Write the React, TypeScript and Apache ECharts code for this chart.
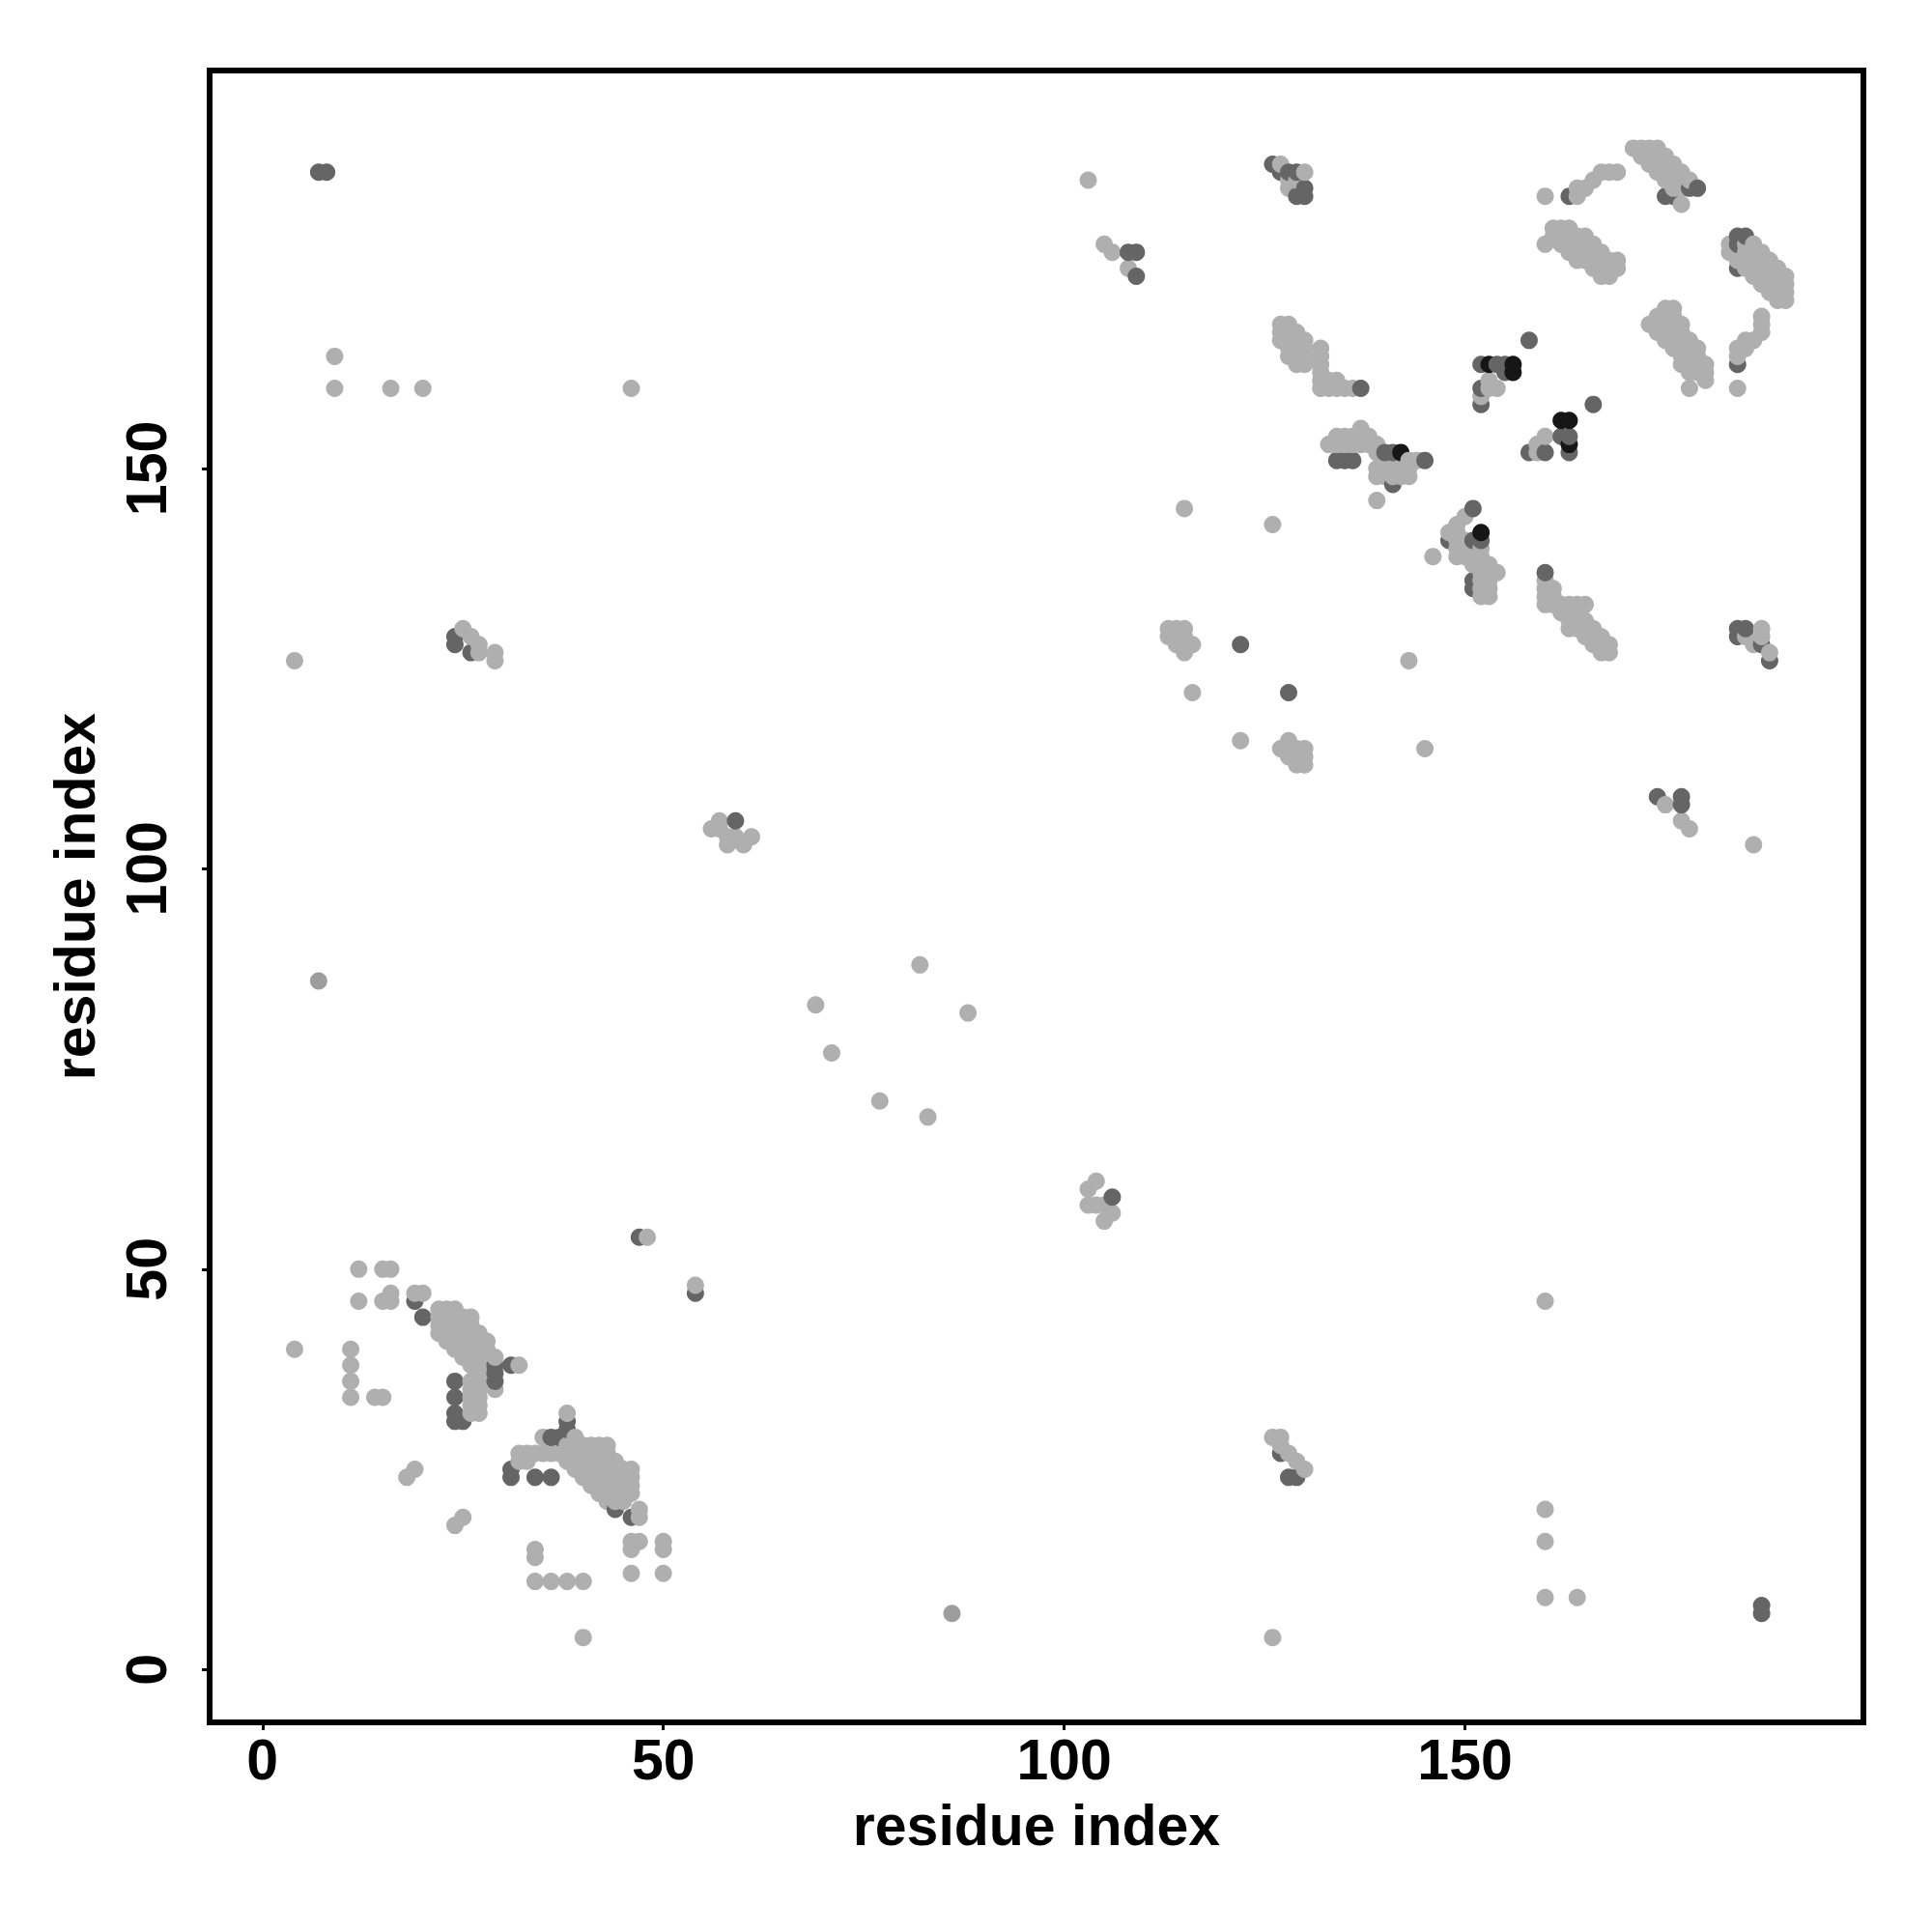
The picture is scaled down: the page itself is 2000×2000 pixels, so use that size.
import React, { useEffect, useRef } from "react";
import * as echarts from "echarts";

// axis range and tick labels
const axisRange = [-6.6, 199.7];
const tickValues = [0, 50, 100, 150];
const axisTitle = "residue index";

// contacts [i, j] grouped by shade
const lightContacts: number[][] = [
  [48,54],[54,48],[12,50],[15,50],[16,50],[12,46],[15,46],[16,46],[16,47],[19,47],[20,47],
  [22,45],[23,45],[24,45],
  [22,44],[23,44],[24,44],[25,44],[26,44],
  [22,43],[23,43],[24,43],[25,43],[26,43],
  [22,42],[23,42],[24,42],[25,42],[26,42],[27,42],
  [23,41],[24,41],[25,41],[26,41],[27,41],[28,41],
  [24,40],[25,40],[26,40],[27,40],[28,40],
  [25,39],[26,39],[27,39],[28,39],[29,39],
  [26,38],[27,38],[28,38],
  [27,37],[26,36],[27,36],[26,35],[27,35],[26,34],[27,34],[26,33],[27,33],[26,32],[27,32],
  [32,38],[29,35],[4,40],[11,40],[11,38],[11,36],[11,34],[14,34],[15,34],
  [18,24],[19,25],[24,18],[25,19],
  [38,32],[35,29],[39,29],
  [32,27],[33,27],[34,27],[35,27],[36,27],[37,27],[32,26],[33,26],
  [38,28],[39,28],[40,28],[41,28],[42,28],[43,28],
  [38,27],[39,27],[40,27],[41,27],[42,27],[43,27],
  [38,26],[39,26],[40,26],[41,26],[42,26],[43,26],[44,26],
  [39,25],[40,25],[41,25],[42,25],[43,25],[44,25],[45,25],[46,25],
  [40,24],[41,24],[42,24],[43,24],[44,24],[45,24],[46,24],
  [41,23],[42,23],[43,23],[44,23],[45,23],[46,23],
  [42,22],[43,22],[44,22],[45,22],[46,22],
  [43,21],[44,21],[45,21],
  [47,20],[47,19],[46,16],[47,16],[46,15],[50,16],[50,15],[46,12],[50,12],
  [34,15],[34,14],[34,11],[36,11],[38,11],[40,11],[40,4],
  [9,164],[9,160],[16,160],[20,160],[46,160],[4,126],
  [25,130],[26,129],[27,128],[27,127],[29,127],[29,126],
  [57,106],[56,105],[57,105],[58,104],[59,104],[58,103],[60,103],[61,104],
  [82,88],[69,83],[88,82],[71,77],[77,71],[83,69],
  [104,61],[103,60],[103,58],[104,58],[105,58],[106,57],[105,56],
  [160,46],[126,29],[127,29],[127,28],[128,27],[129,26],[130,25],
  [160,20],[160,16],[160,9],[164,9],[126,4],
  [103,186],[105,178],[106,177],[108,175],
  [127,188],[130,187],[128,186],[129,186],[128,185],
  [127,168],[128,168],[127,167],[128,167],[129,167],[127,166],[128,166],[129,166],[130,166],
  [128,165],[129,165],[130,165],[132,165],[128,164],[129,164],[130,164],[132,164],
  [129,163],[130,163],[132,163],[132,162],[132,161],[133,161],[134,161],
  [132,160],[133,160],[134,160],[135,160],[136,160],
  [133,153],[134,153],[135,153],[136,153],[137,153],[138,153],[139,153],
  [134,154],[135,154],[136,154],[137,154],[138,154],[137,155],
  [139,152],[140,151],[139,150],[139,149],[140,150],[140,149],[141,150],[141,149],
  [142,150],[142,149],[143,150],[143,151],[144,151],[143,149],[139,146],
  [115,145],[126,143],[146,139],
  [148,142],[149,143],[150,144],[149,142],[149,141],[150,141],[149,140],[150,140],
  [149,139],[150,139],[151,140],[151,139],[151,138],[152,140],[152,139],[152,138],
  [152,137],[153,138],[153,137],[154,137],[152,136],[153,136],[152,135],[153,135],
  [152,134],[153,134],
  [113,130],[114,130],[115,130],[113,129],[114,129],[115,129],[114,128],[115,128],[116,128],[115,127],
  [143,126],[116,122],[122,116],
  [128,116],[127,115],[128,115],[129,115],[130,115],[128,114],[129,114],[130,114],[129,113],[130,113],
  [145,115],
  [160,136],[160,135],[161,135],[160,134],[161,134],[160,133],[161,133],[162,133],[163,133],
  [164,133],[165,133],[162,132],[163,132],[164,132],[163,131],[164,131],[165,131],
  [163,130],[164,130],[165,130],[166,130],[165,129],[166,129],[167,129],[166,128],
  [167,128],[168,128],[167,127],[168,127],
  [187,130],[185,129],[186,128],[188,127],[187,129],
  [175,108],[177,106],[178,105],[186,103],
  [171,190],[172,190],[173,190],[174,190],
  [172,189],[173,189],[174,189],[175,189],
  [173,188],[174,188],[175,188],[176,188],
  [174,187],[175,187],[176,187],[177,187],
  [175,186],[176,186],[177,186],[178,186],
  [176,185],[177,185],[177,183],
  [160,184],[164,184],[164,185],[165,185],[166,186],[167,187],[168,187],[169,187],
  [161,180],[162,180],[163,180],
  [161,179],[162,179],[163,179],[164,179],[165,179],
  [160,178],[162,178],[163,178],[164,178],[165,178],[166,178],
  [163,177],[164,177],[165,177],[166,177],[167,177],
  [164,176],[165,176],[166,176],[167,176],[168,176],[169,176],
  [166,175],[167,175],[168,175],[169,175],
  [167,174],[168,174],
  [183,178],[185,178],[186,178],
  [183,177],[184,177],[185,177],[186,177],[187,177],
  [184,176],[185,176],[186,176],[187,176],[188,176],
  [185,175],[186,175],[187,175],[188,175],[189,175],
  [186,174],[187,174],[188,174],[189,174],[190,174],
  [187,173],[188,173],[189,173],[190,173],
  [188,172],[189,172],[190,172],
  [189,171],[190,171],
  [187,169],[187,168],[187,167],[186,166],[185,166],[185,165],[184,165],[184,164],[184,160],
  [175,170],[176,170],
  [174,169],[175,169],[176,169],
  [173,168],[174,168],[175,168],[176,168],[177,168],
  [174,167],[175,167],[176,167],[177,167],
  [175,166],[176,166],[177,166],[178,166],
  [176,165],[177,165],[178,165],[179,165],
  [177,164],[178,164],[179,164],
  [177,163],[178,163],[179,163],[180,163],
  [178,162],[179,162],[180,162],
  [180,161],[178,160],
  [153,161],[153,160],[154,160],[152,159],[159,153],[159,152],[160,154],
];

const mediumContacts: number[][] = [[7,86],[86,7]];

const darkContacts: number[][] = [
  [47,54],[54,47],[19,46],[20,44],[24,36],[24,34],[24,31],[25,31],[24,32],
  [29,38],[29,37],[29,36],[31,38],[38,31],[38,30],[36,29],[37,29],
  [31,25],[31,24],[34,24],[36,24],[44,20],[46,19],
  [7,187],[8,187],[24,129],[24,128],[26,127],
  [59,106],[106,59],[187,8],[187,7],[127,27],[128,24],[129,24],
  [126,188],[127,187],[128,187],[129,187],[130,185],[130,184],[129,184],
  [108,177],[109,177],[109,174],
  [137,160],[134,151],[135,151],[136,151],[140,152],[141,152],[141,148],[145,151],
  [151,145],[148,141],[151,141],[152,141],[151,136],[151,135],
  [122,128],[128,122],[160,137],
  [184,130],[185,130],[184,129],[187,128],[188,126],
  [174,109],[177,109],[177,108],
  [175,184],[176,184],[178,185],[179,185],[163,184],
  [184,179],[185,179],[184,178],[184,175],[184,163],
  [158,166],[166,158],[152,163],[154,163],[155,163],[155,162],[152,160],[152,158],
  [158,152],[160,152],[162,154],[163,154],[163,152],
];

const blackContacts: number[][] = [
  [142,152],[152,142],[153,163],[156,163],[156,162],[162,156],[163,156],[163,153],
];

const shadeColors = {
  light: "#afafaf",
  medium: "#9d9d9d",
  dark: "#656565",
  black: "#161616",
};

const FONT = "'Liberation Sans', Arial, Helvetica, sans-serif";

function buildPoints() {
  const all: { value: number[]; itemStyle: { color: string } }[] = [];
  const add = (list: number[][], color: string) =>
    list.forEach((p) => all.push({ value: [p[0], p[1]], itemStyle: { color } }));
  add(lightContacts, shadeColors.light);
  add(mediumContacts, shadeColors.medium);
  add(darkContacts, shadeColors.dark);
  add(blackContacts, shadeColors.black);
  all.sort((a, b) => a.value[0] - b.value[0] || a.value[1] - b.value[1]);
  return all;
}

export default function App() {
  const ref = useRef<HTMLDivElement>(null);
  useEffect(() => {
    document.body.style.margin = "0";
    const chart = echarts.init(ref.current as HTMLDivElement, null, { renderer: "svg" });
    const axisCommon = {
      type: "value" as const,
      min: axisRange[0],
      max: axisRange[1],
      splitLine: { show: false },
      axisLine: { show: false, onZero: false },
      axisTick: {
        show: true,
        customValues: tickValues,
        length: 8,
        lineStyle: { color: "#000", width: 3 },
      },
      name: axisTitle,
      nameLocation: "middle" as const,
      nameTextStyle: { fontSize: 59, fontWeight: "bold" as const, fontFamily: FONT, color: "#000" },
    };
    chart.setOption({
      animation: false,
      backgroundColor: "#fff",
      grid: {
        left: 217,
        right: 71,
        top: 73,
        bottom: 217,
        show: true,
        borderColor: "#000",
        borderWidth: 6,
        backgroundColor: "transparent",
      },
      xAxis: {
        ...axisCommon,
        nameGap: 77,
        axisLabel: {
          customValues: tickValues,
          fontSize: 59,
          fontWeight: "bold",
          fontFamily: FONT,
          color: "#000",
          margin: 9,
        },
      },
      yAxis: {
        ...axisCommon,
        nameGap: 110,
        axisLabel: {
          customValues: tickValues,
          rotate: 90,
          fontSize: 59,
          fontWeight: "bold",
          fontFamily: FONT,
          color: "#000",
          margin: 36,
        },
      },
      series: [
        {
          type: "scatter",
          symbol: "circle",
          symbolSize: 18,
          itemStyle: { opacity: 1 },
          data: buildPoints(),
          emphasis: { disabled: true },
        },
      ],
    });
    return () => chart.dispose();
  }, []);
  return <div ref={ref} style={{ width: 2000, height: 2000 }} />;
}
